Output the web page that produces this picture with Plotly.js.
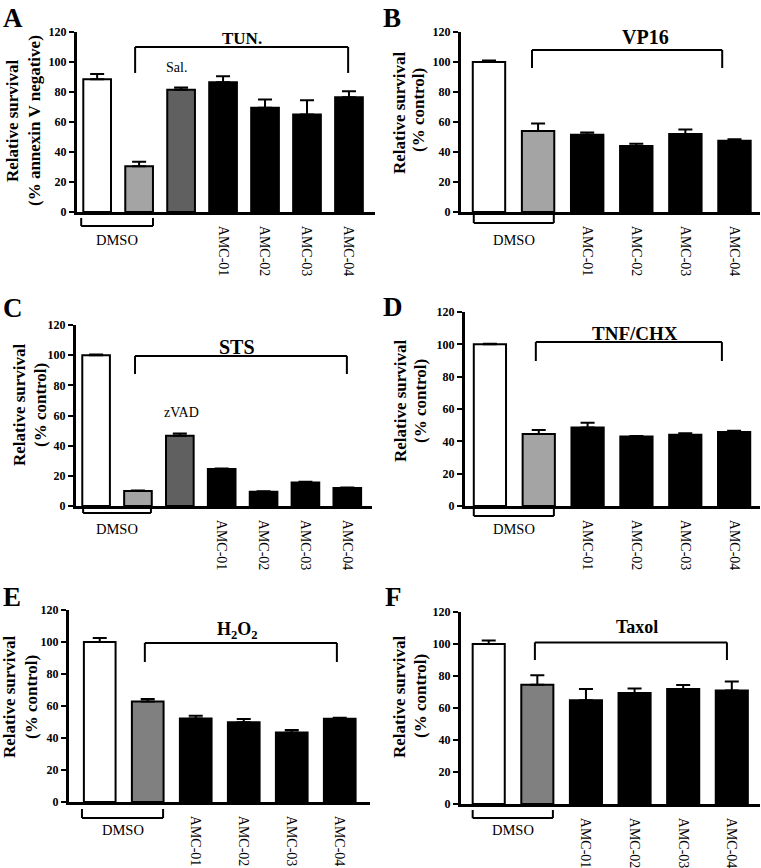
<!DOCTYPE html>
<html><head><meta charset="utf-8">
<script src="https://cdn.plot.ly/plotly-3.0.1.min.js"></script>
<style>html,body{margin:0;padding:0;background:#fff}</style>
</head><body>
<div id="chart" style="width:761px;height:868px"></div>
<script>
// ---------- DATA ----------
const amcLabels = ['AMC-01', 'AMC-02', 'AMC-03', 'AMC-04'];

const catsA = ['DMSO', 'DMSO + TUN.', 'Sal. + TUN.', 'AMC-01', 'AMC-02', 'AMC-03', 'AMC-04'];
const valsA = [88.5, 30.5, 81.5, 86.5, 69.5, 65.0, 76.5];
const errA  = [3.5, 3.0, 1.5, 4.0, 5.5, 9.5, 4.0];

const catsB = ['DMSO', 'DMSO + VP16', 'AMC-01', 'AMC-02', 'AMC-03', 'AMC-04'];
const valsB = [100, 54.0, 51.5, 44.0, 52.0, 47.5];
const errB  = [1.0, 5.0, 1.5, 1.5, 3.0, 1.0];

const catsC = ['DMSO', 'DMSO + STS', 'zVAD + STS', 'AMC-01', 'AMC-02', 'AMC-03', 'AMC-04'];
const valsC = [100, 10.0, 46.5, 24.5, 9.5, 15.5, 12.0];
const errC  = [0.5, 0.3, 1.5, 0.3, 0.3, 0.5, 0.3];

const catsD = ['DMSO', 'DMSO + TNF/CHX', 'AMC-01', 'AMC-02', 'AMC-03', 'AMC-04'];
const valsD = [100, 44.5, 48.5, 43.0, 44.0, 45.8];
const errD  = [0.3, 2.5, 3.0, 0.3, 1.0, 0.7];

const catsE = ['DMSO', 'DMSO + H2O2', 'AMC-01', 'AMC-02', 'AMC-03', 'AMC-04'];
const valsE = [100, 62.8, 52.2, 49.8, 43.4, 52.0];
const errE  = [2.5, 1.6, 1.7, 2.1, 1.6, 0.7];

const catsF = ['DMSO', 'DMSO + Taxol', 'AMC-01', 'AMC-02', 'AMC-03', 'AMC-04'];
const valsF = [100, 74.5, 64.8, 69.4, 71.8, 71.0];
const errF  = [2.2, 6.0, 7.0, 2.8, 2.5, 5.5];

const treatmentNames = ['TUN.', 'VP16', 'STS', 'TNF/CHX', 'H<sub>2</sub>O<sub>2</sub>', 'Taxol'];
const panelLetters = ['A', 'B', 'C', 'D', 'E', 'F'];
const yTitle1 = 'Relative survival';
const yTitle2 = ['(% annexin V negative)', '(% control)', '(% control)', '(% control)', '(% control)', '(% control)'];

// ---------- STYLE / POSITIONS ----------
const W = 761, H = 868;
const FONT = 'Liberation Serif, Times New Roman, serif';
const WHITE = '#ffffff', LGRAY = '#a4a4a4', MGRAY = '#808080', DGRAY = '#606060', BLACK = '#000000';

const panels = [
  {cats: catsA, vals: valsA, errs: errA, colors: [WHITE, LGRAY, DGRAY, BLACK, BLACK, BLACK, BLACK],
   xpx: [77, 375], xr: [-0.48, 6.62], ypx: [212, 32],
   br: {x0: 0.905, x1: 5.98, top: 110, leg: 92.7, lx: 3.45, ly: 115.5, size: 17},
   dm: {x0: -0.38, x1: 1.33, legPx: 6, botPx: 14, textPx: 28},
   extra: {text: 'Sal.', x: 1.9, y: 96},
   t1: [12, 121], t2: [34, 121], letter: [2, 2]},
  {cats: catsB, vals: valsB, errs: errB, colors: [WHITE, LGRAY, BLACK, BLACK, BLACK, BLACK],
   xpx: [461, 760], xr: [-0.57, 5.52], ypx: [212, 32],
   br: {x0: 0.876, x1: 4.75, top: 108, leg: 96, lx: 3.18, ly: 116.5, size: 20},
   dm: {x0: -0.31, x1: 1.32, legPx: 1, botPx: 11, textPx: 28},
   t1: [400, 113], t2: [419, 110], letter: [382, 2]},
  {cats: catsC, vals: valsC, errs: errC, colors: [WHITE, LGRAY, DGRAY, BLACK, BLACK, BLACK, BLACK],
   xpx: [76, 372], xr: [-0.48, 6.59], ypx: [506, 325],
   br: {x0: 0.93, x1: 5.99, top: 99.5, leg: 87.5, lx: 3.37, ly: 105.5, size: 20},
   dm: {x0: -0.31, x1: 1.31, legPx: 0, botPx: 7, textPx: 23},
   extra: {text: 'zVAD', x: 2.05, y: 61.7},
   t1: [19, 405], t2: [40, 405], letter: [2, 292]},
  {cats: catsD, vals: valsD, errs: errD, colors: [WHITE, LGRAY, BLACK, BLACK, BLACK, BLACK],
   xpx: [465, 760], xr: [-0.51, 5.53], ypx: [506, 312],
   br: {x0: 0.94, x1: 4.75, top: 101.4, leg: 89.7, lx: 2.97, ly: 107, size: 19},
   dm: {x0: -0.33, x1: 1.31, legPx: 1, botPx: 10, textPx: 23},
   t1: [400, 401], t2: [420, 401], letter: [382, 291]},
  {cats: catsE, vals: valsE, errs: errE, colors: [WHITE, MGRAY, BLACK, BLACK, BLACK, BLACK],
   xpx: [69, 370], xr: [-0.64, 5.63], ypx: [802, 610],
   br: {x0: 0.94, x1: 4.94, top: 99.4, leg: 87.5, lx: 2.86, ly: 107.5, size: 18},
   dm: {x0: -0.37, x1: 1.32, legPx: 7, botPx: 16, textPx: 28},
   t1: [9, 697], t2: [31, 697], letter: [2, 581]},
  {cats: catsF, vals: valsF, errs: errF, colors: [WHITE, MGRAY, BLACK, BLACK, BLACK, BLACK],
   xpx: [461, 760], xr: [-0.57, 5.58], ypx: [804, 612],
   br: {x0: 0.95, x1: 4.9, top: 101, leg: 90, lx: 3.05, ly: 110.6, size: 18},
   dm: {x0: -0.33, x1: 1.32, legPx: 6, botPx: 14, textPx: 26},
   t1: [399, 696], t2: [420, 696], letter: [384, 581]}
];

const traces = [];
const layout = {
  width: W, height: H, margin: {l: 0, r: 0, t: 0, b: 0},
  paper_bgcolor: '#fff', plot_bgcolor: 'rgba(0,0,0,0)',
  showlegend: false, bargap: 0.34,
  shapes: [], annotations: []
};

panels.forEach((p, i) => {
  const s = i === 0 ? '' : String(i + 1);
  const xa = 'x' + s, ya = 'y' + s;
  traces.push({
    type: 'bar', x: p.cats, y: p.vals, xaxis: xa, yaxis: ya, width: 0.66,
    marker: {color: p.colors, line: {color: BLACK, width: 2}},
    error_y: {type: 'data', symmetric: false, array: p.errs, arrayminus: p.errs.map(() => 0),
              color: BLACK, thickness: 2, width: 7},
    hoverinfo: 'none', showlegend: false
  });
  const yd = [1 - p.ypx[0] / H, 1 - p.ypx[1] / H];
  layout['xaxis' + s] = {
    domain: [p.xpx[0] / W, p.xpx[1] / W], anchor: ya, range: p.xr, type: 'category',
    showline: true, linecolor: BLACK, linewidth: 3, ticks: '', showgrid: false, zeroline: false,
    tickmode: 'array', tickvals: amcLabels, ticktext: amcLabels, tickangle: 90,
    ticklabelstandoff: 8,
    tickfont: {family: FONT, size: 14, color: BLACK}
  };
  layout['yaxis' + s] = {
    domain: yd, anchor: xa, range: [0, 120], tickmode: 'linear', tick0: 0, dtick: 20,
    ticks: 'outside', ticklen: 5, tickwidth: 2, tickcolor: BLACK,
    showline: true, linecolor: BLACK, linewidth: 3, showgrid: false, zeroline: false,
    tickfont: {family: FONT, size: 12, weight: 'bold', color: BLACK}
  };
  // treatment bracket above bars
  const b = p.br;
  const ln = {color: BLACK, width: 2};
  layout.shapes.push(
    {type: 'line', xref: xa, yref: ya, x0: b.x0, x1: b.x1, y0: b.top, y1: b.top, line: ln},
    {type: 'line', xref: xa, yref: ya, x0: b.x0, x1: b.x0, y0: b.top, y1: b.leg, line: ln},
    {type: 'line', xref: xa, yref: ya, x0: b.x1, x1: b.x1, y0: b.top, y1: b.leg, line: ln}
  );
  layout.annotations.push({xref: xa, yref: ya, x: b.lx, y: b.ly, text: '<b>' + treatmentNames[i] + '</b>',
    showarrow: false, font: {family: FONT, size: b.size, color: BLACK}, xanchor: 'center', yanchor: 'middle'});
  // DMSO bracket below axis
  const d = p.dm;
  const py = px => 1 - (p.ypx[0] + px) / H;
  layout.shapes.push(
    {type: 'line', xref: xa, yref: 'paper', x0: d.x0, x1: d.x1, y0: py(d.botPx), y1: py(d.botPx), line: ln},
    {type: 'line', xref: xa, yref: 'paper', x0: d.x0, x1: d.x0, y0: py(d.legPx), y1: py(d.botPx), line: ln},
    {type: 'line', xref: xa, yref: 'paper', x0: d.x1, x1: d.x1, y0: py(d.legPx), y1: py(d.botPx), line: ln}
  );
  layout.annotations.push({xref: xa, yref: 'paper', x: (d.x0 + d.x1) / 2, y: py(d.textPx), text: 'DMSO',
    showarrow: false, font: {family: FONT, size: 14.5, color: BLACK}, xanchor: 'center', yanchor: 'middle'});
  if (p.extra) {
    layout.annotations.push({xref: xa, yref: ya, x: p.extra.x, y: p.extra.y, text: p.extra.text,
      showarrow: false, font: {family: FONT, size: 14, color: BLACK}, xanchor: 'center', yanchor: 'middle'});
  }
  // y titles (two lines)
  layout.annotations.push(
    {xref: 'paper', yref: 'paper', x: p.t1[0] / W, y: 1 - p.t1[1] / H, text: '<b>' + yTitle1 + '</b>', textangle: -90,
     showarrow: false, font: {family: FONT, size: 17, color: BLACK}, xanchor: 'center', yanchor: 'middle'},
    {xref: 'paper', yref: 'paper', x: p.t2[0] / W, y: 1 - p.t2[1] / H, text: '<b>' + yTitle2[i] + '</b>', textangle: -90,
     showarrow: false, font: {family: FONT, size: 17, color: BLACK}, xanchor: 'center', yanchor: 'middle'}
  );
  // panel letter
  layout.annotations.push({xref: 'paper', yref: 'paper', x: p.letter[0] / W, y: 1 - p.letter[1] / H,
    text: '<b>' + panelLetters[i] + '</b>', showarrow: false, font: {family: FONT, size: 27, color: BLACK},
    xanchor: 'left', yanchor: 'top', borderpad: 0});
});

Plotly.newPlot('chart', traces, layout, {displayModeBar: false, staticPlot: true});
</script>
</body></html>
